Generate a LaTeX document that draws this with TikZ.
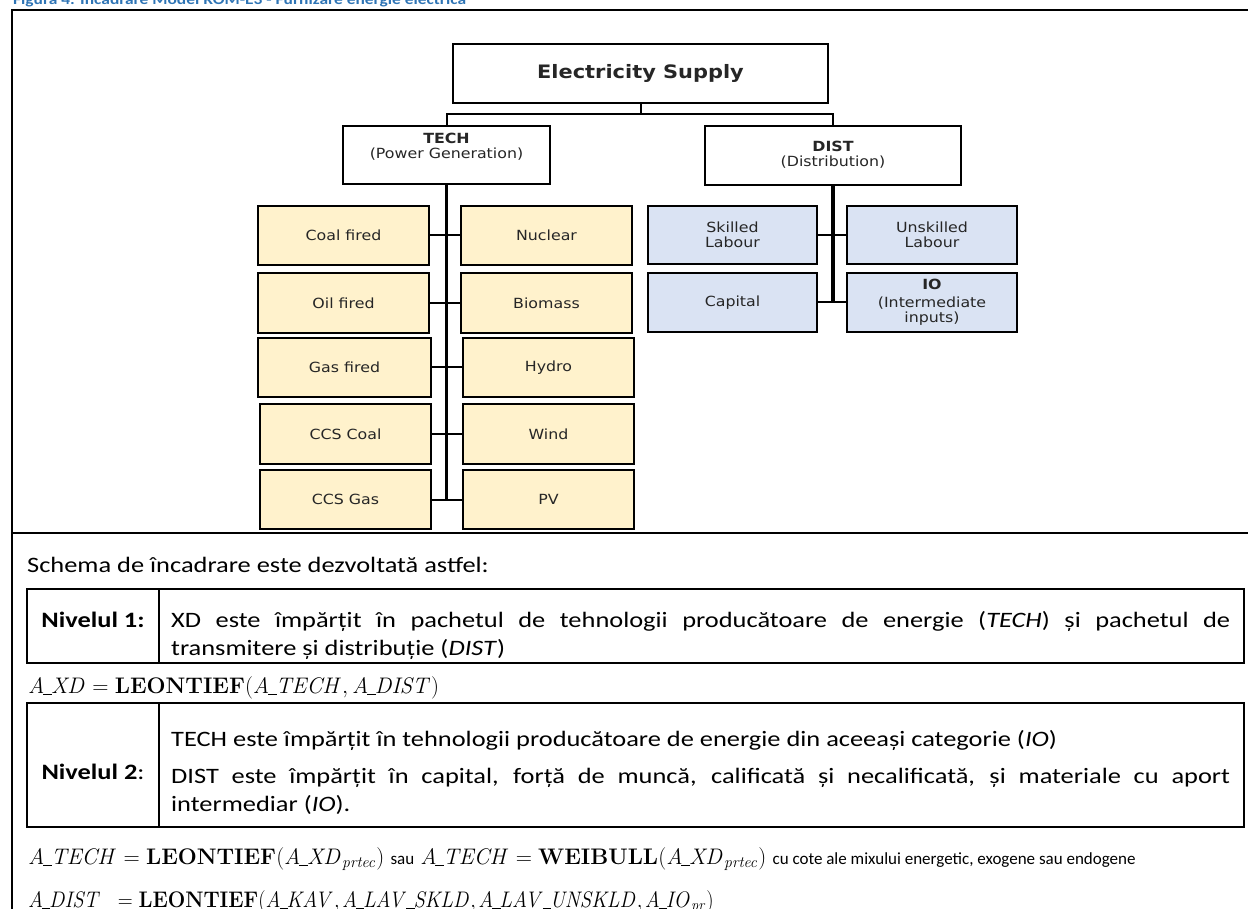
\RequirePackage{fix-cm}
\documentclass[tikz,border=0pt]{standalone}
\usepackage[no-math]{fontspec}
\setmainfont{Carlito}[FakeStretch=1.2]
\newfontfamily\plainfont{Carlito}
\newfontfamily\boxfont{DejaVu Sans}[FakeStretch=1.13]
\definecolor{techfill}{RGB}{255,242,204}
\definecolor{distfill}{RGB}{218,227,243}
\definecolor{captionblue}{RGB}{46,116,181}
\definecolor{boxtext}{RGB}{38,38,38}
\tikzset{
  box/.style={draw=black, line width=2.4pt, rectangle, inner sep=0pt, align=center,
    font=\boxfont\fontsize{14}{15}\selectfont, text=boxtext},
  headbox/.style={box, fill=white},
  techbox/.style={box, fill=techfill, minimum width=171pt, minimum height=59pt},
  distbox/.style={box, fill=distfill, minimum height=58pt},
  link/.style={line width=2pt},
  trunk/.style={line width=3.4pt},
  cell/.style={draw=black, line width=2pt, rectangle, inner sep=0pt},
  body/.style={inner sep=0pt, font=\fontsize{22}{28}\selectfont},
  formula/.style={inner sep=0pt, font=\fontsize{22.5}{26}\selectfont}
}
% short underscore used inside the identifiers of the formulas
\newcommand{\us}{\mkern-1mu\rule[-0.1em]{0.4em}{0.05em}\mkern-1mu}
% tight comma between arguments
\newcommand{\argsep}{{,}\mkern2mu}
\newcommand{\smalltext}[1]{{\plainfont\fontsize{17}{20}\selectfont #1}}
\begin{document}
\begin{tikzpicture}[x=1pt,y=-1pt]
\useasboundingbox (0,0) rectangle (1248,909);
\fill[white] (0,0) rectangle (1248,909);

% caption above the frame
\node[anchor=base west, inner sep=0pt, text=captionblue,
      font=\bfseries\fontsize{14.5}{16}\selectfont] (caption) at (13,5)
  {Figura 4: Încadrare Model ROM-E3 - Furnizare energie electrică};

% outer frame and divider
\draw[line width=2pt] (1256,10) -- (12,10) -- (12,1000);
\draw[line width=2pt] (12,533) -- (1256,533);

% ---------- tree ----------
\node[headbox, minimum width=375pt, minimum height=59pt,
      font=\boxfont\bfseries\fontsize{18.5}{20}\selectfont] (es) at (640.5,73.5) {Electricity Supply};

\node[headbox, minimum width=207pt, minimum height=58pt] (tech) at (446.5,155) {};
\node[inner sep=0pt, align=center, font=\boxfont\fontsize{14}{15}\selectfont, text=boxtext]
  (techlabel) at (446.5,147) {\textbf{TECH}\\(Power Generation)};

\node[headbox, minimum width=256pt, minimum height=59pt] (dist) at (833,155.5) {};
\node[inner sep=0pt, align=center, font=\boxfont\fontsize{14}{15}\selectfont, text=boxtext]
  (distlabel) at (833,155) {\textbf{DIST}\\(Distribution)};

\coordinate (split) at (640.5,114);
\draw[link] (es.south) -- (split);
\draw[link] (tech.north) |- (split) -| (dist.north);

% power generation technologies
\node[techbox] (coal)    at (343.5,235.5) {Coal fired};
\node[techbox] (nuclear) at (546.5,235.5) {Nuclear};
\node[techbox, minimum height=60pt] (oil)     at (343.5,303) {Oil fired};
\node[techbox, minimum height=60pt] (biomass) at (546.5,303) {Biomass};
\node[techbox, minimum width=173pt] (gas)   at (344.5,367.5) {Gas fired};
\node[techbox] (hydro)   at (548.5,367.5) {Hydro};
\node[techbox, minimum height=60pt] (ccscoal) at (345.5,434) {CCS Coal};
\node[techbox, minimum height=60pt] (wind)    at (548.5,434) {Wind};
\node[techbox] (ccsgas)  at (345.5,499.5) {CCS Gas};
\node[techbox] (pv)      at (548.5,499.5) {PV};

\draw[trunk] (tech.south) -- (tech.south |- ccsgas.east);
\draw[link] (coal.east) -- (nuclear.west);
\draw[link] (oil.east) -- (biomass.west);
\draw[link] (gas.east) -- (hydro.west);
\draw[link] (ccscoal.east) -- (wind.west);
\draw[link] (ccsgas.east) -- (pv.west);

% distribution inputs
\node[distbox, minimum width=169pt] (skilled)   at (732.5,235) {Skilled\\Labour};
\node[distbox, minimum width=170pt] (unskilled) at (932,235) {Unskilled\\Labour};
\node[distbox, minimum width=169pt, minimum height=59pt] (capital) at (732.5,302.5) {Capital};
\node[distbox, minimum width=170pt, minimum height=59pt] (io) at (932,302.5)
  {\textbf{IO}\\[3pt](Intermediate\\inputs)};

\draw[trunk] (dist.south) -- (dist.south |- capital.east);
\draw[link] (skilled.east) -- (unskilled.west);
\draw[link] (capital.east) -- (io.west);

% ---------- explanation ----------
\node[body, anchor=base west] (intro) at (27,572) {Schema de încadrare este dezvoltată astfel:};

\node[cell, minimum width=132pt, minimum height=74pt] (lvlonekey) at (93,626) {};
\node[cell, minimum width=1085pt, minimum height=74pt] (lvlonetext) at (701.5,626) {};
\node[body, anchor=base] (lvlonename) at (93,627) {\bfseries Nivelul 1:};
\node[body, anchor=base west] (lvlonea) at (171,627)
  {\makebox[1059pt][s]{XD este împărțit în pachetul de tehnologii producătoare de energie (\textit{TECH}) și pachetul de}};
\node[body, anchor=base west] (lvloneb) at (171,655)
  {transmitere și distribuție (\textit{DIST})};

\node[formula, anchor=base west] (fxd) at (28,693)
  {$\mathit{A\us XD} = \mathbf{LEONTIEF}(\mathit{A\us TECH}, \mathit{A\us DIST})$};

\node[cell, minimum width=132pt, minimum height=124pt] (lvltwokey) at (93,765) {};
\node[cell, minimum width=1085pt, minimum height=124pt] (lvltwotext) at (701.5,765) {};
\node[body, anchor=base] (lvltwoname) at (93,779) {\textbf{Nivelul 2}:};
\node[body, anchor=base west] (lvltwoa) at (171,746)
  {TECH este împărțit în tehnologii producătoare de energie din aceeași categorie (\textit{IO})};
\node[body, anchor=base west] (lvltwob) at (171,783)
  {\makebox[1059pt][s]{DIST este împărțit în capital, forță de muncă, calificată și necalificată, și materiale cu aport}};
\node[body, anchor=base west] (lvltwoc) at (171,811)
  {intermediar (\textit{IO}).};

\node[formula, anchor=base west] (ftech) at (28,864)
  {$\mathit{A\us TECH} = \mathbf{LEONTIEF}\bigl(\mathit{A\us XD}_{\mathit{prtec}}\bigr)$ \smalltext{sau}
   $\mathit{A\us TECH} = \mathbf{WEIBULL}\bigl(\mathit{A\us XD}_{\mathit{prtec}}\bigr)$
   \smalltext{cu cote ale mixului energetic, exogene sau endogene}};

\node[formula, anchor=base west] (fdist) at (28,907)
  {\scalebox{0.92}[1]{$\mathit{A\us DIST}\ \ = \mathbf{LEONTIEF}\bigl(\mathit{A\us KAV}\argsep \mathit{A\us LAV\us SKLD}\argsep \mathit{A\us LAV\us UNSKLD}\argsep \mathit{A\us IO}_{\mathit{pr}}\bigr)$}};
\end{tikzpicture}
\end{document}
